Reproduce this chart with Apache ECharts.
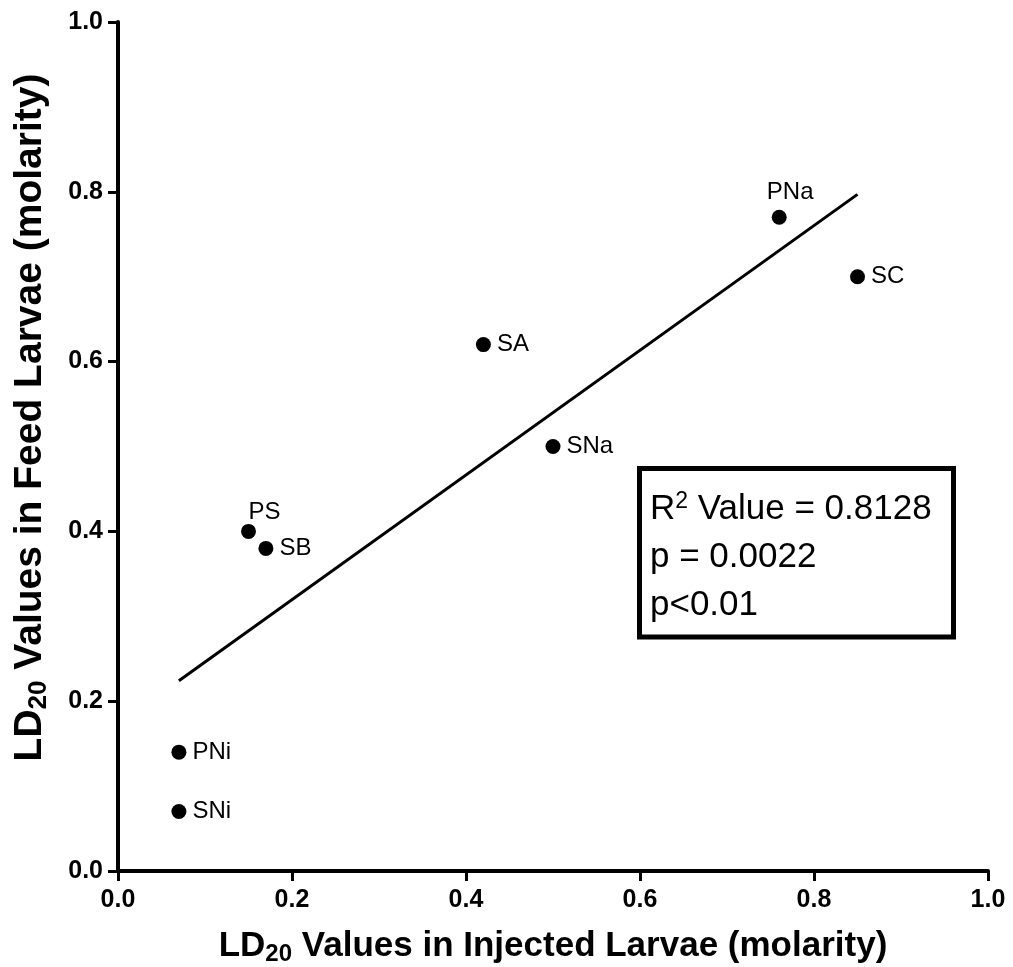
<!DOCTYPE html>
<html>
<head>
<meta charset="utf-8">
<script src="https://cdn.jsdelivr.net/npm/echarts@6/dist/echarts.min.js"></script>
<style>html,body{margin:0;padding:0;background:#fff;}#c{width:1013px;height:967px;}</style>
</head>
<body>
<div id="c"></div>
<script>
var labels = ['PNa', 'SC', 'SA', 'SNa', 'PS', 'SB', 'PNi', 'SNi'];
var xValues = [0.76, 0.85, 0.42, 0.50, 0.15, 0.17, 0.07, 0.07];
var yValues = [0.77, 0.70, 0.62, 0.50, 0.40, 0.38, 0.14, 0.07];
var fitLine = [[0.07, 0.224], [0.85, 0.797]];
var tickValues = [0.0, 0.2, 0.4, 0.6, 0.8, 1.0];
var statsLines = ['R{sup|2} Value = 0.8128', 'p = 0.0022', 'p<0.01'];

var FONT = '"Liberation Sans", Arial, sans-serif';
var aboveLabels = { 'PNa': [11, -25], 'PS': [16, -19] };

var points = labels.map(function (name, i) {
  var item = { name: name, value: [xValues[i], yValues[i]] };
  if (aboveLabels[name]) {
    item.label = { position: 'inside', offset: aboveLabels[name] };
  }
  return item;
});

var chart = echarts.init(document.getElementById('c'));
chart.setOption({
  animation: false,
  backgroundColor: '#fff',
  grid: { left: 118, right: 25, top: 22, bottom: 96, containLabel: false, outerBoundsMode: 'none' },
  xAxis: {
    type: 'value', min: 0, max: 1, interval: 0.2,
    splitLine: { show: false },
    axisLine: { show: true, lineStyle: { color: '#000', width: 4 } },
    axisTick: { show: true, length: 10, lineStyle: { color: '#000', width: 3 } },
    axisLabel: { color: '#000', fontFamily: FONT, fontWeight: 'bold', fontSize: 25, margin: 17,
      formatter: function (v) { return v.toFixed(1); } },
    name: 'LD{sub|20} Values in Injected Larvae (molarity)',
    nameLocation: 'middle', nameGap: 55,
    nameTextStyle: { color: '#000', fontFamily: FONT, fontWeight: 'bold', fontSize: 35,
      rich: { sub: { fontFamily: FONT, fontWeight: 'bold', fontSize: 24, color: '#000', padding: [16, 0, 0, 0] } } }
  },
  yAxis: {
    type: 'value', min: 0, max: 1, interval: 0.2,
    splitLine: { show: false },
    axisLine: { show: true, lineStyle: { color: '#000', width: 4 } },
    axisTick: { show: true, length: 10, lineStyle: { color: '#000', width: 3 } },
    axisLabel: { color: '#000', fontFamily: FONT, fontWeight: 'bold', fontSize: 25, margin: 15,
      formatter: function (v) { return v.toFixed(1); } },
    name: 'LD{sub|20} Values in Feed Larvae (molarity)',
    nameLocation: 'middle', nameGap: 66,
    nameTextStyle: { color: '#000', fontFamily: FONT, fontWeight: 'bold', fontSize: 39, padding: [0, 0, 0, 58],
      rich: { sub: { fontFamily: FONT, fontWeight: 'bold', fontSize: 26, color: '#000', padding: [18, 0, 0, 0] } } }
  },
  series: [
    {
      type: 'line', data: fitLine, symbol: 'none', silent: true,
      lineStyle: { color: '#000', width: 3, opacity: 1 }
    },
    {
      type: 'scatter', data: points, symbol: 'circle', symbolSize: 15,
      itemStyle: { color: '#000', opacity: 1 },
      label: {
        show: true, position: 'right', distance: 6, opacity: 1,
        formatter: '{b}', color: '#000', fontFamily: FONT, fontSize: 24
      }
    }
  ],
  graphic: [
    { type: 'rect', z: 10,
      shape: { x: 639.5, y: 468.5, width: 314, height: 168.5 },
      style: { fill: '#fff', stroke: '#000', lineWidth: 5 } },
    { type: 'text', x: 650, y: 485, z: 11,
      style: { text: statsLines.join('\n'), fill: '#000', font: '35px ' + FONT, lineHeight: 48,
        rich: { sup: { fontSize: 23, fontFamily: FONT, fill: '#000', padding: [0, 0, 14, 0] } } } }
  ]
});
</script>
</body>
</html>
